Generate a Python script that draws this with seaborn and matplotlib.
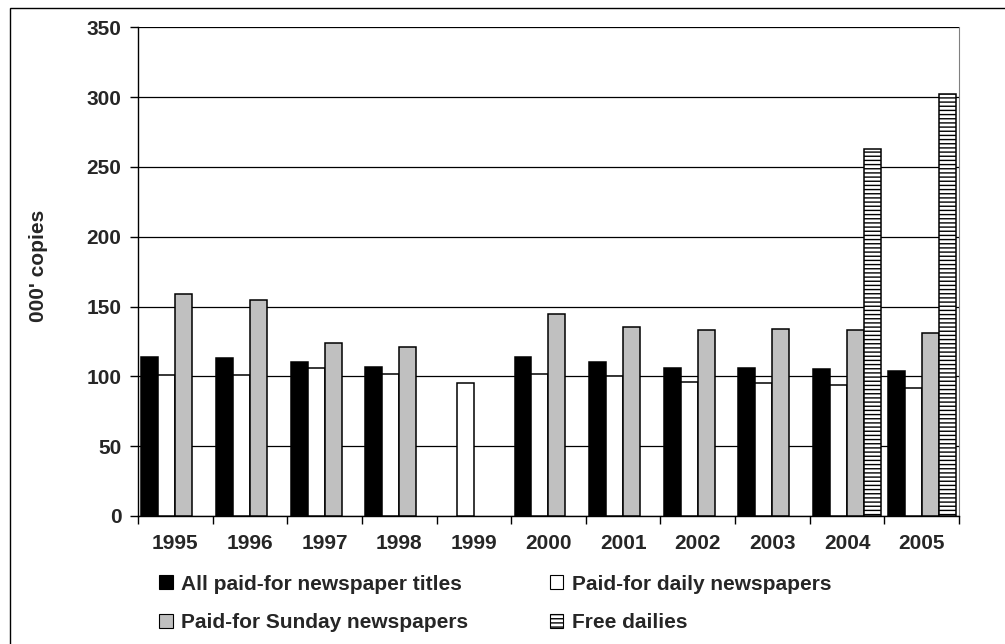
import numpy as np
import pandas as pd
import seaborn as sns
import matplotlib.pyplot as plt
from matplotlib.patches import Patch, Rectangle

# Newspaper circulation, 000' copies
years = ["1995", "1996", "1997", "1998", "1999", "2000",
         "2001", "2002", "2003", "2004", "2005"]
all_paid = [114, 113, 110, 107, np.nan, 114, 110, 106, 106, 105, 104]
paid_daily = [101, 101, 106, 102, 95, 102, 100, 96, 95, 93.5, 92]
paid_sunday = [159, 155, 124, 121, np.nan, 145, 135, 133, 134, 133, 131]
free_dailies = [np.nan] * 9 + [263, 302]

series = ["All paid-for newspaper titles", "Paid-for daily newspapers",
          "Paid-for Sunday newspapers", "Free dailies"]
colors = ["#000000", "#ffffff", "#c0c0c0", "#ffffff"]

df = pd.DataFrame({"year": years, series[0]: all_paid, series[1]: paid_daily,
                   series[2]: paid_sunday, series[3]: free_dailies})
long = df.melt(id_vars="year", var_name="series", value_name="copies")

sns.set_style("white")
plt.rcParams['font.family'] = ['Liberation Sans', 'DejaVu Sans']
plt.rcParams['font.weight'] = 'bold'
plt.rcParams['hatch.linewidth'] = 1.0

fig = plt.figure(figsize=(10.05, 6.44), dpi=100)
ax = fig.add_axes([0.1373, 0.1988, 0.8169, 0.7588])

sns.barplot(data=long, x="year", y="copies", hue="series", hue_order=series,
            palette=dict(zip(series, colors)), width=0.91, edgecolor="black",
            linewidth=1.1, saturation=1, legend=False, ax=ax, zorder=3)

# hatch the free dailies bars
for bar in ax.containers[3]:
    bar.set_hatch("----")

ax.set_ylim(0, 350)
ax.set_xlim(-0.5, len(years) - 0.5)
ax.set_yticks(range(0, 351, 50))
ax.yaxis.grid(True, color="black", lw=0.9, zorder=0)
ax.set_axisbelow(True)

ax.set_xlabel("")
ax.set_ylabel("000' copies", fontsize=15, fontweight="bold")
ax.yaxis.set_label_coords(-0.110, 0.512)

ax.set_xticks(np.arange(-0.5, len(years)), minor=True)
ax.tick_params(axis="x", which="major", length=0, pad=13, labelsize=15)
ax.tick_params(axis="x", which="minor", length=6, width=1, color="black",
               direction="out", bottom=True)
ax.tick_params(axis="y", length=6, width=1, color="black", direction="out",
               left=True, labelsize=15, pad=6)

for side in ["left", "bottom"]:
    ax.spines[side].set_color("black")
    ax.spines[side].set_linewidth(1)
ax.spines["top"].set_visible(False)
ax.spines["right"].set_color("#808080")

handles = [Patch(facecolor=c, edgecolor="black", lw=0.8) for c in colors]
handles[3].set_hatch("----")
# matplotlib fills legend column-wise, reorder so rows read like the original
order = [0, 2, 1, 3]
fig.legend([handles[i] for i in order], [series[i] for i in order],
           loc="upper left", ncol=2, frameon=False,
           bbox_to_anchor=(0.14, 0.137), fontsize=15,
           handlelength=0.65, handleheight=0.65, handletextpad=0.4,
           columnspacing=3.9, labelspacing=0.95)

# outer chart border (only top and left visible in the crop)
fig.add_artist(Rectangle((10 / 1005, -0.1), 1.2, 1 - 8 / 644 + 0.1,
                         transform=fig.transFigure, fill=False,
                         edgecolor="black", lw=1))

fig.savefig("out.png", dpi=100)
